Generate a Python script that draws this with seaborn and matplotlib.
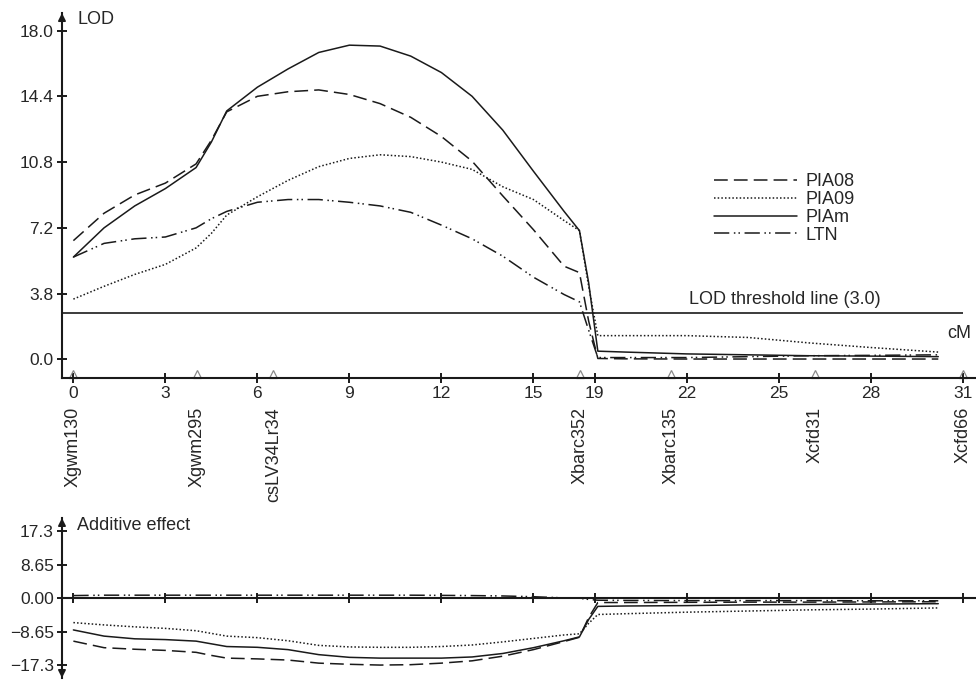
import matplotlib
matplotlib.use('Agg')
import matplotlib.pyplot as plt
import seaborn as sns

# positions along the scan (plot units; labelled cM ticks below)
pos = [0, 1, 2, 3, 4, 4.5, 5, 6, 7, 8, 9, 10, 11, 12, 13, 14, 15, 16, 16.5,
       16.8, 17.1, 18, 20, 22, 24, 26, 28.2]

# LOD profiles
lod_pia08 = [6.5, 8.0, 9.0, 9.65, 10.7, 12.0, 13.55, 14.4, 14.65, 14.75, 14.5, 14.0,
             13.25, 12.2, 10.85, 8.95, 7.1, 5.1, 4.75, 2.1, 0.05, 0.03, 0.02, 0.02,
             0.02, 0.02, 0.02]
lod_pia09 = [3.3, 4.0, 4.65, 5.2, 6.1, 6.9, 7.9, 8.9, 9.8, 10.55, 11.0, 11.2, 11.1,
             10.8, 10.4, 9.45, 8.75, 7.6, 7.05, 4.0, 1.3, 1.3, 1.3, 1.2, 0.9, 0.65, 0.4]
lod_piam = [5.6, 7.2, 8.4, 9.35, 10.5, 11.9, 13.6, 14.9, 15.9, 16.8, 17.2, 17.15,
            16.6, 15.7, 14.4, 12.55, 10.3, 8.1, 7.05, 4.2, 0.45, 0.4, 0.3, 0.25, 0.2,
            0.18, 0.15]
lod_ltn = [5.6, 6.35, 6.6, 6.7, 7.2, 7.7, 8.1, 8.6, 8.75, 8.75, 8.6, 8.4, 8.05, 7.35,
           6.6, 5.65, 4.5, 3.55, 3.15, 1.6, 0.1, 0.1, 0.1, 0.15, 0.2, 0.22, 0.25]

# additive effects
add_pia08 = [-11.1, -12.8, -13.2, -13.5, -14.0, -14.8, -15.5, -15.7, -16.0, -16.8,
             -17.1, -17.3, -17.2, -16.8, -16.2, -15.0, -13.3, -11.2, -10.1, -5.0,
             -1.1, -1.1, -1.05, -1.0, -1.0, -0.95, -0.9]
add_pia09 = [-6.3, -6.9, -7.4, -7.8, -8.4, -9.1, -9.8, -10.2, -11.0, -12.2, -12.6,
             -12.7, -12.7, -12.5, -12.1, -11.3, -10.4, -9.5, -9.2, -6.5, -4.2, -4.0,
             -3.6, -3.3, -3.0, -2.8, -2.5]
add_piam = [-8.2, -9.8, -10.5, -10.7, -11.1, -11.8, -12.5, -12.7, -13.3, -14.6, -15.3,
            -15.5, -15.5, -15.5, -15.2, -14.3, -12.8, -11.0, -10.0, -5.5, -2.1, -2.0,
            -1.9, -1.7, -1.6, -1.5, -1.4]
add_ltn = [0.7, 0.8, 0.8, 0.8, 0.8, 0.8, 0.8, 0.8, 0.8, 0.8, 0.8, 0.8, 0.8, 0.75,
           0.7, 0.6, 0.4, 0.1, 0.0, -0.3, -0.5, -0.55, -0.6, -0.6, -0.6, -0.65, -0.65]

trait_names = ['PIA08', 'PIA09', 'PIAm', 'LTN']

# map markers
marker_names = ['Xgwm130', 'Xgwm295', 'csLV34Lr34', 'Xbarc352', 'Xbarc135',
                'Xcfd31', 'Xcfd66']
marker_pos = [0, 4.03, 6.52, 16.52, 19.5, 24.18, 29.0]

x_ticks = [0, 3, 6, 9, 12, 15, 17, 20, 23, 26, 29]
x_labels = ['0', '3', '6', '9', '12', '15', '19', '22', '25', '28', '31']

lod_ticks = [0, 3.6, 7.2, 10.8, 14.4, 18.0]
lod_labels = ['0.0', '3.8', '7.2', '10.8', '14.4', '18.0']
lod_threshold = 2.52

add_ticks = [17.3, 8.65, 0, -8.65, -17.3]
add_labels = ['17.3', '8.65', '0.00', '\u22128.65', '\u221217.3']

sns.set_style('ticks')
plt.rcParams['font.family'] = ['Liberation Sans', 'DejaVu Sans']

line_styles = {
    'PIA08': (0, (9, 4)),
    'PIA09': (0, (1, 1.4)),
    'PIAm': '-',
    'LTN': (0, (10, 3, 1, 2, 1, 3)),
}
ink = '#1a1a1a'

fig = plt.figure(figsize=(9.76, 6.81), dpi=100)
ax1 = fig.add_axes([0.0635, 0.4449, 0.9365, 0.536])
ax2 = fig.add_axes([0.0635, 0.0044, 0.9365, 0.235])

lod_series = [lod_pia08, lod_pia09, lod_piam, lod_ltn]
add_series = [add_pia08, add_pia09, add_piam, add_ltn]

for name, lod, add in zip(trait_names, lod_series, add_series):
    sns.lineplot(x=pos, y=lod, ax=ax1, color=ink, lw=1.1,
                 linestyle=line_styles[name], label=name)
    sns.lineplot(x=pos, y=add, ax=ax2, color=ink, lw=1.1,
                 linestyle=line_styles[name], legend=False)

# ---- top panel: LOD ----
ax1.set_xlim(-0.372, 29.43)
ax1.set_ylim(-1.02, 18.96)
x0 = ax1.get_xlim()[0]
ax1.hlines(lod_threshold, x0, 29.0, color=ink, lw=1.2)
ax1.text(20.07, 3.3, 'LOD threshold line (3.0)', fontsize=13, va='center', ha='left')
ax1.text(28.5, 1.42, 'cM', fontsize=13, va='center', ha='left')
ax1.text(0.12, 18.6, 'LOD', fontsize=13, va='center', ha='left')

ax1.set_xticks(x_ticks)
ax1.set_xticklabels(x_labels)
ax1.set_yticks(lod_ticks)
ax1.set_yticklabels(lod_labels)

ax1.plot(marker_pos, [0.011] * len(marker_pos), transform=ax1.get_xaxis_transform(),
         ls='none', marker='^', ms=6, mfc='none', mec='#8a8a8a', mew=0.9,
         clip_on=False)
for name, mp in zip(marker_names, marker_pos):
    ax1.text(mp, -0.0795, name, transform=ax1.get_xaxis_transform(), rotation=90,
             ha='center', va='top', fontsize=13)

leg = ax1.legend(loc='upper left', bbox_to_anchor=(0.713, 0.5616), frameon=False,
                 fontsize=13, handlelength=4.6, handletextpad=0.5, labelspacing=0.05,
                 borderpad=0, borderaxespad=0)

# ---- bottom panel: additive effect ----
ax2.set_xlim(ax1.get_xlim())
ax2.set_ylim(-20.65, 20.8)
ax2.set_xticks(x_ticks)
ax2.set_xticklabels([])
ax2.set_yticks(add_ticks)
ax2.set_yticklabels(add_labels)
ax2.spines['bottom'].set_position(('data', 0))
ax2.text(0.12, 18.9, 'Additive effect', fontsize=13, va='center', ha='left')

for ax in (ax1, ax2):
    sns.despine(ax=ax)
    for side in ('left', 'bottom'):
        ax.spines[side].set_linewidth(1.5)
        ax.spines[side].set_color(ink)
    ax.tick_params(direction='inout', length=7, width=1.4, color=ink,
                   labelsize=12.5, pad=2.5)
    ax.annotate('', xy=(0, 1), xytext=(0, 0.93), xycoords='axes fraction',
                arrowprops=dict(arrowstyle='-|>', color=ink, lw=1.3,
                                mutation_scale=11, shrinkA=0, shrinkB=0))

ax2.annotate('', xy=(0, 0), xytext=(0, 0.07), xycoords='axes fraction',
             arrowprops=dict(arrowstyle='-|>', color=ink, lw=1.3,
                             mutation_scale=11, shrinkA=0, shrinkB=0))

fig.savefig('out.png', dpi=100)
